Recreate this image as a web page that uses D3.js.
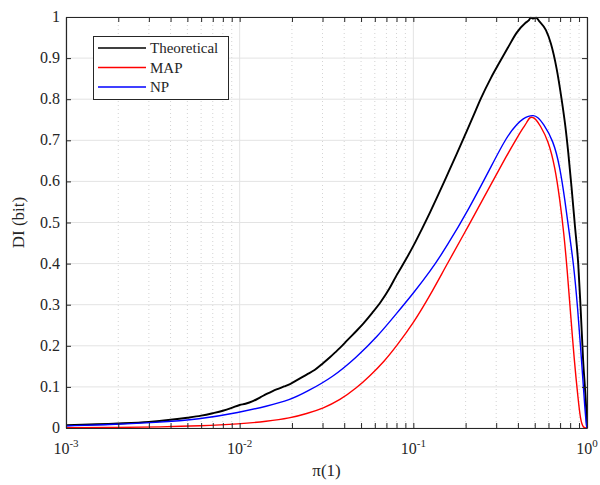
<!DOCTYPE html>
<html>
<head>
<meta charset="utf-8">
<script src="https://cdn.jsdelivr.net/npm/d3@7/dist/d3.min.js"></script>
<style>
body{margin:0;background:#fff;}
text{font-family:"Liberation Serif","DejaVu Serif",serif;fill:#262626;}
</style>
</head>
<body>
<svg id="chart" width="600" height="485"></svg>
<script>
// data: [pi, DI]
var theoretical = [[0.001,0.007],[0.002,0.011],[0.003,0.015],[0.004,0.020],[0.005,0.025],[0.006,0.030],[0.007,0.036],[0.008,0.042],[0.009,0.049],[0.01,0.056],[0.0108,0.059],[0.012,0.066],[0.0132,0.075],[0.0143,0.083],[0.0155,0.090],[0.0168,0.096],[0.018,0.101],[0.0195,0.107],[0.0215,0.117],[0.0243,0.130],[0.027,0.141],[0.0303,0.158],[0.0331,0.172],[0.0355,0.184],[0.0378,0.195],[0.042,0.215],[0.047,0.236],[0.0515,0.254],[0.058,0.280],[0.065,0.307],[0.0725,0.338],[0.0802,0.372],[0.09,0.408],[0.1,0.443],[0.112,0.484],[0.1246,0.524],[0.139,0.567],[0.155,0.611],[0.177,0.665],[0.2,0.716],[0.221,0.758],[0.245,0.802],[0.28,0.852],[0.315,0.891],[0.35,0.925],[0.394,0.962],[0.44,0.985],[0.46,0.991],[0.475,0.998],[0.49,0.996],[0.51,0.998],[0.53,0.99],[0.58,0.968],[0.62,0.935],[0.668,0.875],[0.714,0.80],[0.75,0.735],[0.78,0.67],[0.815,0.585],[0.852,0.492],[0.89,0.40],[0.918,0.295],[0.95,0.165],[0.99,0.044],[1.0,0.0]];
var map = [[0.001,0.0005],[0.002,0.0012],[0.0035,0.0025],[0.0059,0.005],[0.01,0.0097],[0.0143,0.016],[0.0195,0.024],[0.0243,0.035],[0.0303,0.048],[0.0378,0.068],[0.047,0.097],[0.0563,0.127],[0.068,0.162],[0.0802,0.2],[0.1,0.255],[0.1246,0.322],[0.1555,0.397],[0.21,0.495],[0.276,0.588],[0.344,0.662],[0.4,0.71],[0.43,0.731],[0.45,0.743],[0.468,0.757],[0.49,0.756],[0.51,0.75],[0.536,0.737],[0.598,0.70],[0.654,0.636],[0.698,0.555],[0.736,0.474],[0.769,0.385],[0.797,0.30],[0.844,0.165],[0.89,0.068],[0.918,0.019],[0.95,0.0],[1.0,0.0]];
var np = [[0.001,0.005],[0.002,0.009],[0.0032,0.013],[0.0059,0.021],[0.01,0.038],[0.0143,0.053],[0.0195,0.068],[0.0243,0.088],[0.0345,0.124],[0.047,0.172],[0.062,0.222],[0.0802,0.279],[0.1,0.328],[0.1246,0.38],[0.1555,0.441],[0.21,0.535],[0.276,0.63],[0.344,0.709],[0.4,0.742],[0.43,0.753],[0.46,0.759],[0.49,0.761],[0.52,0.757],[0.5596,0.741],[0.639,0.70],[0.698,0.636],[0.746,0.555],[0.79,0.474],[0.837,0.40],[0.883,0.295],[0.93,0.165],[0.973,0.044],[0.996,0.0],[1.0,0.0]];

var seriesNames = ['Theoretical','MAP','NP'];
var seriesColors = ['#000000','#ff0000','#0000ff'];
var xMajor = [1e-3,1e-2,1e-1,1];
var xExp = ['-3','-2','-1','0'];
var yTicks = [0,0.1,0.2,0.3,0.4,0.5,0.6,0.7,0.8,0.9,1];

var m = {left:66, top:17, right:587, bottom:428};
var svg = d3.select('#chart');
var x = d3.scaleLog().domain([1e-3,1]).range([m.left,m.right]);
var y = d3.scaleLinear().domain([0,1]).range([m.bottom,m.top]);

//minor x values 2..9 per decade
var xMinor = [];
xMajor.slice(0,3).forEach(function(d){
	for(var k=2;k<10;k++) xMinor.push(d*k);
});

var grid = svg.append('g');
grid.selectAll('.minor').data(xMinor).enter().append('line')
	.attr('x1',function(d){return x(d);}).attr('x2',function(d){return x(d);})
	.attr('y1',m.top).attr('y2',m.bottom)
	.attr('stroke','#c8c8c8').attr('stroke-width',0.8).attr('stroke-dasharray','1,3');
grid.selectAll('.xmaj').data(xMajor).enter().append('line')
	.attr('x1',function(d){return x(d);}).attr('x2',function(d){return x(d);})
	.attr('y1',m.top).attr('y2',m.bottom)
	.attr('stroke','#e3e3e3').attr('stroke-width',1);
grid.selectAll('.ymaj').data(yTicks).enter().append('line')
	.attr('x1',m.left).attr('x2',m.right)
	.attr('y1',function(d){return y(d);}).attr('y2',function(d){return y(d);})
	.attr('stroke','#e3e3e3').attr('stroke-width',1);

//curves: theoretical keeps its bumps, the estimators are smooth
var lineRough = d3.line().x(function(d){return x(d[0]);}).y(function(d){return y(d[1]);}).curve(d3.curveMonotoneX);
var lineSmooth = d3.line().x(function(d){return x(d[0]);}).y(function(d){return y(d[1]);}).curve(d3.curveBasis);
svg.append('defs').append('clipPath').attr('id','clip').append('rect')
	.attr('x',m.left).attr('y',m.top-2).attr('width',m.right-m.left).attr('height',m.bottom-m.top+2);
var plot = svg.append('g').attr('clip-path','url(#clip)');
[theoretical,map,np].forEach(function(s,i){
	plot.append('path').datum(s).attr('d',i==0?lineRough:lineSmooth)
		.attr('fill','none').attr('stroke',seriesColors[i])
		.attr('stroke-width',i==0?1.9:1.4);
});

//axes (box style, ticks inside)
var axisColor = '#262626';
var axB = d3.axisBottom(x).tickValues(xMajor.concat(xMinor)).tickSizeInner(-5).tickSizeOuter(0).tickFormat('');
var axT = d3.axisTop(x).tickValues(xMajor.concat(xMinor)).tickSizeInner(-5).tickSizeOuter(0).tickFormat('');
var axL = d3.axisLeft(y).tickValues(yTicks).tickSizeInner(-5).tickSizeOuter(0).tickFormat('');
var axR = d3.axisRight(y).tickValues(yTicks).tickSizeInner(-5).tickSizeOuter(0).tickFormat('');
[[axB,'translate(0,'+m.bottom+')'],[axT,'translate(0,'+m.top+')'],[axL,'translate('+m.left+',0)'],[axR,'translate('+m.right+',0)']].forEach(function(a){
	var g = svg.append('g').attr('transform',a[1]).call(a[0]);
	g.selectAll('path,line').attr('stroke',axisColor);
});
svg.selectAll('.domain').attr('stroke-width',1.2);

//tick labels
xMajor.forEach(function(d,i){
	var t = svg.append('text').attr('x',x(d)).attr('y',m.bottom+26)
		.attr('text-anchor','middle').style('font-size','16px');
	t.append('tspan').text('10');
	t.append('tspan').text(xExp[i]).attr('dy',-7).style('font-size','11px');
});
svg.selectAll('.ylab').data(yTicks).enter().append('text')
	.attr('x',m.left-6).attr('y',function(d){return y(d)+5;})
	.attr('text-anchor','end').style('font-size','16px')
	.text(function(d){return d3.format('~g')(d);});

//axis titles
svg.append('text').attr('x',(m.left+m.right)/2).attr('y',476)
	.attr('text-anchor','middle').style('font-size','17px').text('\u03c0(1)');
svg.append('text').attr('transform','translate(24,'+((m.top+m.bottom)/2)+') rotate(-90)')
	.attr('text-anchor','middle').style('font-size','17px').text('DI (bit)');

//legend
var leg = svg.append('g');
leg.append('rect').attr('x',93.5).attr('y',36.5).attr('width',135).attr('height',63)
	.attr('fill','#fff').attr('stroke',axisColor).attr('stroke-width',1);
seriesNames.forEach(function(n,i){
	var ly = 48 + i*19.5;
	leg.append('line').attr('x1',98).attr('x2',146).attr('y1',ly).attr('y2',ly)
		.attr('stroke',seriesColors[i]).attr('stroke-width',1.5);
	leg.append('text').attr('x',150).attr('y',ly+5).style('font-size','15px').text(n);
});
</script>
</body>
</html>
